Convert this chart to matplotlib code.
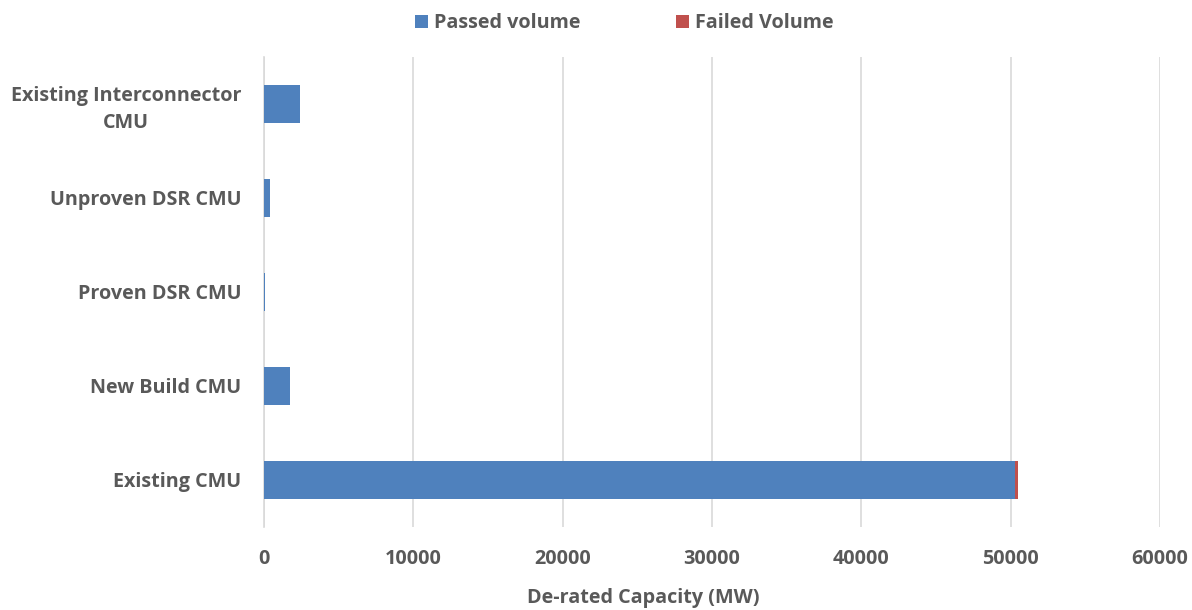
import matplotlib
matplotlib.use("Agg")
import matplotlib.pyplot as plt
from matplotlib.patches import Patch

categories = ["Existing CMU", "New Build CMU", "Proven DSR CMU",
              "Unproven DSR CMU", "Existing Interconnector\nCMU"]
passed_volume = [50280, 1740, 70, 380, 2390]
failed_volume = [200, 0, 10, 40, 0]
x_ticks = [0, 10000, 20000, 30000, 40000, 50000, 60000]

blue = "#4f81bd"
red = "#c0504d"
text_grey = "#595959"
font = "Open Sans"
fs = 14.2

fig = plt.figure(figsize=(11.92, 6.10), dpi=100)
ax = fig.add_axes([0.2215, 0.1361, 0.9732 - 0.2215, 0.9066 - 0.1361])

y = range(len(categories))
ax.barh(y, passed_volume, height=0.4, color=blue, zorder=3)
ax.barh(y, failed_volume, left=passed_volume, height=0.4, color=red, zorder=3)

ax.set_xlim(0, 60000)
ax.set_ylim(-0.5, len(categories) - 0.5)
ax.set_xticks(x_ticks)
ax.set_xticklabels([str(t) for t in x_ticks], fontsize=fs, fontweight="bold",
                   color=text_grey, family=font)
ax.set_yticks(list(y))
ax.set_yticklabels(categories, fontsize=fs, fontweight="bold",
                   color=text_grey, family=font, linespacing=1.45)
for lbl in ax.get_yticklabels():
    lbl.set_multialignment("center")
ax.tick_params(axis="y", length=0, pad=16.5)
ax.tick_params(axis="x", length=0, pad=16)

ax.grid(axis="x", color="#d9d9d9", linewidth=1.2, zorder=0)
for side in ("top", "right", "bottom"):
    ax.spines[side].set_visible(False)
ax.spines["left"].set_color("#d9d9d9")
ax.spines["left"].set_linewidth(1.2)

ax.set_xlabel("De-rated Capacity (MW)", fontsize=fs, fontweight="bold",
              color=text_grey, family=font)
ax.xaxis.set_label_coords(0.423, -0.151)
ax.xaxis.label.set_verticalalignment("center")

handles = [Patch(facecolor=blue, label="Passed volume"),
           Patch(facecolor=red, label="Failed Volume")]
leg = fig.legend(handles=handles, loc="center", bbox_to_anchor=(0.524, 0.962),
                 ncol=2, frameon=False, handlelength=0.65, handleheight=0.65,
                 handletextpad=0.3, columnspacing=4.85,
                 prop={"family": font, "weight": "bold", "size": fs})
for t in leg.get_texts():
    t.set_color(text_grey)

fig.savefig("out.png", dpi=100, facecolor="white")
